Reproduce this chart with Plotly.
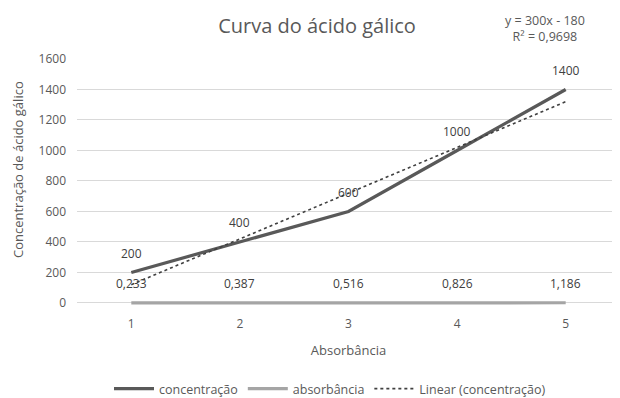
import numpy as np
import plotly.graph_objects as go

categories = [1, 2, 3, 4, 5]
concentracao = [200, 400, 600, 1000, 1400]
absorbancia = [0.233, 0.387, 0.516, 0.826, 1.186]
absorbancia_labels = ["0,233", "0,387", "0,516", "0,826", "1,186"]
y_ticks = [0, 200, 400, 600, 800, 1000, 1200, 1400, 1600]

slope, intercept = np.polyfit(categories, concentracao, 1)
trend = [slope * x + intercept for x in categories]
r2 = 1 - np.sum((np.array(concentracao) - np.array(trend)) ** 2) / np.sum(
    (np.array(concentracao) - np.mean(concentracao)) ** 2)

FONT = "Open Sans"
TXT = "#595959"

# page has an 8px body margin; figure coordinates below are page coords minus 8
W, H = 612, 390
PL, PT, PB = 69, 51, 298  # plot area left, top, bottom (figure px)
PW, PH = W - PL, PB - PT

fig = go.Figure()
fig.add_trace(go.Scatter(x=categories, y=concentracao, mode="lines", name="concentração",
                         line=dict(color="#595959", width=3.2)))
fig.add_trace(go.Scatter(x=categories, y=absorbancia, mode="lines", name="absorbância",
                         line=dict(color="#a5a5a5", width=3.2)))
fig.add_trace(go.Scatter(x=categories, y=trend, mode="lines", name="Linear (concentração)",
                         line=dict(color="#404040", width=1.6, dash="dot")))

annotations = []
for x, v in zip(categories, concentracao):
    annotations.append(dict(x=x, y=v, text=str(v), showarrow=False, yshift=19,
                            font=dict(size=12, color="#404040", family=FONT)))
for x, v, t in zip(categories, absorbancia, absorbancia_labels):
    annotations.append(dict(x=x, y=v, text=t, showarrow=False, yshift=19,
                            font=dict(size=12, color="#404040", family=FONT)))
annotations.append(dict(xref="paper", yref="paper", x=(10 - PL) / PW, y=(PB - 162) / PH,
                        text="Concentração de ácido gálico", textangle=-90, showarrow=False,
                        font=dict(size=13, color=TXT, family=FONT), xanchor="center", yanchor="middle"))
eq = f"y = {slope:.0f}x - {abs(intercept):.0f}<br>R² = {r2:.4f}".replace(".", ",")
annotations.append(dict(xref="paper", yref="paper", x=(537 - PL) / PW, y=(PB - 20) / PH,
                        text=eq, showarrow=False, align="center",
                        font=dict(size=12.5, color=TXT, family=FONT), xanchor="center", yanchor="middle"))

fig.update_layout(
    width=W, height=H,
    margin=dict(l=PL, r=0, t=PT, b=H - PB, autoexpand=False),
    paper_bgcolor="white", plot_bgcolor="white",
    font=dict(family=FONT, color=TXT, size=12),
    title=dict(text="Curva do ácido gálico", x=309 / W, xanchor="center",
               y=1 - 18 / H, yanchor="middle", font=dict(size=20, color=TXT, family=FONT)),
    xaxis=dict(range=[0.5, 5.5], tickvals=categories, ticktext=[str(c) for c in categories],
               showgrid=False, zeroline=False, showline=False, ticks="",
               tickfont=dict(size=12, color=TXT), ticklabelstandoff=9,
               title=dict(text="Absorbância", font=dict(size=13, color=TXT), standoff=14)),
    yaxis=dict(range=[-20, 1600], tickvals=y_ticks, showgrid=True, gridcolor="#d9d9d9",
               gridwidth=1, zeroline=False, showline=False, ticks="",
               tickfont=dict(size=12, color=TXT), ticklabelstandoff=10),
    legend=dict(orientation="h", xref="paper", yref="paper", x=(322 - PL) / PW, xanchor="center",
                y=(PB - 381) / PH, yanchor="middle", font=dict(size=12.5, color=TXT),
                itemwidth=40),
    showlegend=True,
    annotations=annotations,
)

fig.write_html("out.html")
